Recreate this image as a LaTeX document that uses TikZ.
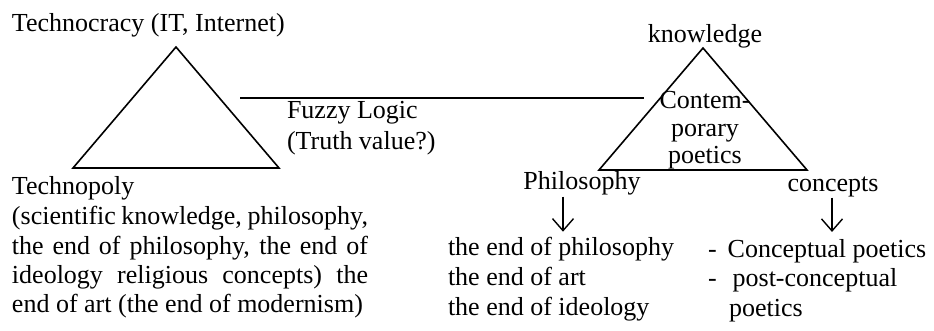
\documentclass[tikz,border=0pt]{standalone}
\usepackage{fontspec}
\setmainfont{Liberation Serif}
\usetikzlibrary{arrows.meta}

\tikzset{
  lbl/.style={inner sep=0pt, outer sep=0pt, font=\fontsize{26}{30}\selectfont},
  tri/.style={line width=1.6pt, line join=miter},
  fleche/.style={line width=1.4pt, -{Straight Barb[length=12pt,width=21pt]}},
}

\begin{document}
\begin{tikzpicture}[x=1pt, y=-1pt]
  \useasboundingbox (0,0) rectangle (934,331);

  % Les sommets
  \coordinate (Ta) at (176,47);
  \coordinate (Tb) at (73,168);
  \coordinate (Tc) at (279,168);
  \coordinate (Ka) at (703,48);
  \coordinate (Kb) at (599,170);
  \coordinate (Kc) at (807,170);
  \coordinate (fuzzyL) at (240,98);
  \coordinate (fuzzyR) at (644,98);

  % Les triangles et le lien
  \draw[tri] (Ta) -- (Tb) -- (Tc) -- cycle;
  \draw[tri] (Ka) -- (Kb) -- (Kc) -- cycle;
  \draw[tri] (fuzzyL) -- (fuzzyR);

  % Le triangle de gauche
  \node[lbl, anchor=base west] (techno) at (12,32) {Technocracy (IT, Internet)};
  \node[lbl, anchor=base west, text width=356pt, align=justify,
        font=\fontsize{26}{29.5}\selectfont] (poly) at (12,195)
    {Technopoly\\ (scientific knowledge, philosophy,\linebreak the end of philosophy, the end of\linebreak ideology religious concepts) the\linebreak end of art (the end of modernism)};
  % (base = derniere ligne)
  \node[lbl, anchor=base west, align=left, font=\fontsize{26}{31}\selectfont] (fuzzy) at (287,150)
    {Fuzzy Logic\\(Truth value?)};

  % Le triangle de droite
  \node[lbl, anchor=base] (know) at (705,43) {knowledge};
  \node[lbl, anchor=base, align=center, font=\fontsize{26}{27.5}\selectfont] (poet) at (705,164)
    {Contem-\\porary\\poetics};
  \node[lbl, anchor=base] (philo) at (582,190) {Philosophy};
  \node[lbl, anchor=base] (conc) at (833,192) {concepts};

  % Les listes
  \node[lbl, anchor=base west, align=left] (ends) at (448,315)
    {the end of philosophy\\the end of art\\the end of ideology};
  \node[lbl, anchor=base west, align=left, font=\fontsize{26}{29.5}\selectfont] (cpo) at (708,316)
    {-\hspace{11pt}Conceptual poetics\\-\hspace{16pt}post-conceptual\\\hspace*{21pt}poetics};

  % Les flèches
  \draw[fleche, shorten <=1pt, shorten >=5pt] ([xshift=-19pt]philo.south) -- ([xshift=-19pt]philo.south |- ends.north);
  \draw[fleche, shorten >=7pt] ([xshift=-1pt]conc.south) -- ([xshift=-1pt]conc.south |- cpo.north);
\end{tikzpicture}
\end{document}
